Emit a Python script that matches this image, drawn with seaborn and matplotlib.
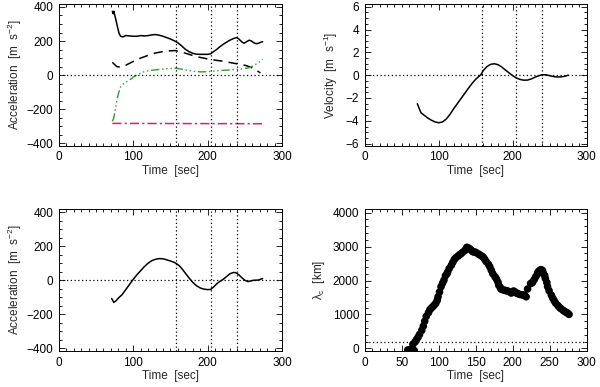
import numpy as np
import pandas as pd
import matplotlib
matplotlib.use("Agg")
import matplotlib.pyplot as plt
import seaborn as sns
from matplotlib.ticker import MultipleLocator

sns.set_style("ticks")
plt.rcParams['font.family'] = ['Liberation Sans', 'DejaVu Sans']
plt.rcParams['font.size'] = 8.5
plt.rcParams['mathtext.fontset'] = 'custom'
plt.rcParams['mathtext.rm'] = 'Liberation Sans'
plt.rcParams['mathtext.it'] = 'Liberation Sans'

# ---- top-left: acceleration components ----
t_solid = [72, 73, 74, 75, 77, 79, 81, 83, 86, 90, 95, 100, 105, 110, 115, 120, 125, 130, 135, 140, 145, 150, 155, 160,
           165, 170, 175, 180, 185, 190, 195, 200, 204, 208, 212, 216, 220, 225, 230, 235, 239, 242, 246, 249, 252, 256,
           259, 262, 265, 268, 271, 274]
a_solid = [374, 360, 375, 355, 320, 280, 245, 228, 224, 232, 230, 228, 228, 232, 230, 232, 236, 238, 234, 228, 220, 212,
           202, 190, 172, 152, 138, 128, 123, 122, 122, 122, 125, 138, 150, 165, 178, 192, 205, 215, 220, 212, 195, 187,
           195, 205, 200, 190, 185, 186, 192, 196]
t_dash = [72, 75, 78, 83, 90, 100, 110, 120, 130, 140, 150, 157, 165, 173, 180, 190, 200, 210, 220, 230, 240, 250, 258, 265, 271]
a_dash = [75, 62, 50, 47, 58, 80, 100, 116, 130, 138, 143, 144, 135, 125, 115, 104, 95, 88, 82, 74, 66, 58, 47, 30, 13]
t_green = [72, 74, 76, 78, 80, 83, 87, 92, 97, 101, 107, 114, 122, 132, 145, 157, 165, 173, 182, 191, 200, 209, 220, 235,
           245, 250, 253, 257, 262, 268, 274]
a_green = [-271, -250, -200, -150, -110, -70, -50, -37, -22, -9, 5, 19, 27, 32, 38, 41, 35, 28, 22, 19, 20, 24, 28, 32,
           36, 40, 41, 46, 56, 72, 93]
t_mag = [72, 274]
a_mag = [-283, -285]

# ---- top-right: velocity ----
t_vel = [71, 74, 76, 80, 85, 90, 95, 100, 105, 110, 115, 120, 125, 130, 135, 140, 145, 150, 157, 160, 165, 170, 175, 180,
         185, 190, 195, 200, 205, 210, 215, 220, 225, 230, 235, 240, 245, 250, 255, 260, 265, 270, 275]
v_vel = [-2.5, -3.0, -3.3, -3.5, -3.75, -3.95, -4.1, -4.17, -4.1, -3.85, -3.45, -2.95, -2.5, -2.05, -1.6, -1.15, -0.72,
         -0.35, 0.05, 0.4, 0.75, 0.95, 1.0, 0.92, 0.72, 0.45, 0.2, -0.05, -0.25, -0.38, -0.44, -0.43, -0.33, -0.18,
         -0.05, 0.04, 0.03, -0.05, -0.12, -0.16, -0.15, -0.1, 0.0]

# ---- bottom-left: acceleration ----
t_acc = [71, 74, 77, 80, 85, 90, 95, 100, 105, 110, 115, 120, 125, 130, 135, 140, 145, 150, 155, 158, 162, 166, 170, 175,
         180, 185, 190, 195, 200, 204, 208, 212, 216, 220, 225, 230, 235, 238, 242, 246, 250, 254, 258, 262, 268, 274]
a_acc = [-107, -130, -120, -105, -85, -55, -25, 5, 32, 56, 80, 100, 115, 123, 127, 126, 120, 113, 105, 98, 85, 65, 42, 14,
         -12, -32, -45, -52, -55, -54, -40, -22, -8, 2, 20, 38, 46, 44, 32, 15, 0, -8, -4, 0, 1, 10]

# ---- bottom-right: lambda_c ----
t_lam = [58, 60, 62, 64, 66, 65, 68, 70, 72, 74, 77, 79, 81, 83, 86, 88, 90, 92, 94, 96, 98, 99, 101, 103, 105, 107, 109,
         111, 112, 114, 117, 119, 121, 123, 126, 128, 130, 132, 135, 137, 138, 140, 142, 144, 146, 148, 150, 153, 155, 158,
         160, 162, 164, 167, 169, 171, 173, 176, 178, 180, 181, 183, 184, 186, 189, 191, 193, 196, 198, 200, 201, 203, 205,
         207, 209, 212, 214, 216, 218, 220, 224, 226, 227, 229, 231, 233, 234, 236, 238, 240, 241, 243, 244, 246, 247, 249,
         252, 254, 256, 258, 261, 263, 265, 268, 270, 272, 274, 276]
l_lam = [-50, -50, -50, -50, -50, 120, 190, 260, 330, 410, 530, 650, 800, 940, 1050, 1140, 1190, 1230, 1280, 1330, 1420, 1520,
         1660, 1815, 1920, 2010, 2140, 2200, 2250, 2350, 2450, 2540, 2620, 2670, 2720, 2760, 2790, 2830, 2880, 2940, 2980,
         2960, 2930, 2890, 2850, 2840, 2830, 2790, 2760, 2720, 2690, 2630, 2560, 2480, 2400, 2300, 2200, 2110, 2040, 1950,
         1860, 1800, 1750, 1730, 1710, 1700, 1690, 1660, 1630, 1660, 1690, 1660, 1630, 1610, 1590, 1580, 1570, 1560, 1520,
         1750, 1910, 1930, 1960, 2030, 2110, 2180, 2250, 2290, 2320, 2300, 2230, 2150, 2060, 1940, 1820, 1700, 1570, 1480,
         1400, 1330, 1260, 1210, 1170, 1120, 1090, 1060, 1040, 1000]

t_vlines = [158, 204, 240]
xticks = [0, 100, 200, 300]

fig = plt.figure(figsize=(6.0, 3.87), dpi=100)
L1, R1 = 0.098, 0.470
L2, R2 = 0.608, 0.978
TT, TB = 0.990, 0.623
BT, BB = 0.460, 0.093
ax1 = fig.add_axes([L1, TB, R1 - L1, TT - TB])
ax2 = fig.add_axes([L2, TB, R2 - L2, TT - TB])
ax3 = fig.add_axes([L1, BB, R1 - L1, BT - BB])
ax4 = fig.add_axes([L2, BB, R2 - L2, BT - BB])


def style(ax, xmaj, xmin, ymaj, ymin):
    ax.set_xlim(0, 300)
    ax.xaxis.set_major_locator(MultipleLocator(xmaj))
    ax.xaxis.set_minor_locator(MultipleLocator(xmin))
    ax.yaxis.set_major_locator(MultipleLocator(ymaj))
    ax.yaxis.set_minor_locator(MultipleLocator(ymin))
    ax.tick_params(which='both', direction='in', top=True, right=True, colors='black', labelsize=8.5, pad=4)
    ax.tick_params(which='major', length=4.5, width=0.6)
    ax.tick_params(which='minor', length=2.2, width=0.6)
    for s in ax.spines.values():
        s.set_linewidth(0.7)
        s.set_color('black')
    ax.set_xlabel('Time  [sec]', labelpad=1)


dot = dict(color='black', lw=0.9, ls=(0, (1, 2)))

# top-left
d = pd.DataFrame({'t': t_solid, 'a': a_solid})
sns.lineplot(data=d, x='t', y='a', ax=ax1, color='black', lw=1.1, sort=False)
d = pd.DataFrame({'t': t_dash, 'a': a_dash})
sns.lineplot(data=d, x='t', y='a', ax=ax1, color='black', lw=1.1, sort=False, linestyle=(0, (6, 4)))
d = pd.DataFrame({'t': t_green, 'a': a_green})
sns.lineplot(data=d, x='t', y='a', ax=ax1, color='#2ca02c', lw=1.0, sort=False, linestyle=(0, (6, 2, 1, 2, 1, 2, 1, 2)))
d = pd.DataFrame({'t': t_mag, 'a': a_mag})
sns.lineplot(data=d, x='t', y='a', ax=ax1, color='#c8286e', lw=1.1, sort=False, linestyle=(0, (6, 2, 1.5, 2)))
ax1.set_ylim(-415, 418)
style(ax1, 100, 10, 200, 50)
ax1.set_ylabel(r'Acceleration  [m  s$^{-2}$]', labelpad=2)

# top-right
d = pd.DataFrame({'t': t_vel, 'v': v_vel})
sns.lineplot(data=d, x='t', y='v', ax=ax2, color='black', lw=1.1, sort=False)
ax2.set_ylim(-6.2, 6.25)
style(ax2, 100, 10, 2, 0.5)
ax2.set_ylabel(r'Velocity  [m  s$^{-1}$]', labelpad=4)

# bottom-left
d = pd.DataFrame({'t': t_acc, 'a': a_acc})
sns.lineplot(data=d, x='t', y='a', ax=ax3, color='black', lw=1.1, sort=False)
ax3.set_ylim(-415, 418)
style(ax3, 100, 10, 200, 50)
ax3.set_ylabel(r'Acceleration  [m  s$^{-2}$]', labelpad=2)

# bottom-right
d = pd.DataFrame({'t': t_lam, 'l': l_lam})
sns.scatterplot(data=d, x='t', y='l', ax=ax4, color='black', s=30, edgecolor='none', linewidth=0)
ax4.set_ylim(-80, 4110)
style(ax4, 50, 10, 1000, 200)
ax4.set_ylabel(r'$\lambda_c$  [km]', labelpad=4)

for ax in (ax1, ax2, ax3):
    for tv in t_vlines:
        ax.axvline(tv, **dot)
    ax.axhline(0, **dot)
ax4.axhline(200, **dot)

for ax in (ax1, ax2, ax3):
    ax.set_xticks(xticks)

fig.savefig('out.png', dpi=100)
